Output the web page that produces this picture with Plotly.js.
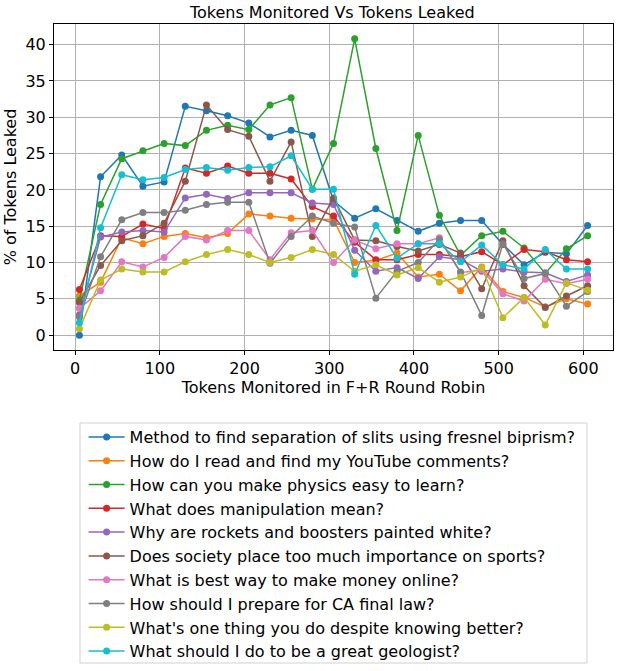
<!DOCTYPE html>
<html>
<head>
<meta charset="utf-8">
<script src="https://cdn.plot.ly/plotly-3.0.1.min.js"></script>
<style>html,body{margin:0;padding:0;background:#fff;}#chart{width:620px;height:671px;}</style>
</head>
<body>
<div id="chart"></div>
<script>
const tokensMonitored = [5, 30, 55, 80, 105, 130, 155, 180, 205, 230, 255, 280, 305, 330, 355, 380, 405, 430, 455, 480, 505, 530, 555, 580, 605];

const seriesNames = [
  "Method to find separation of slits using fresnel biprism?",
  "How do I read and find my YouTube comments?",
  "How can you make physics easy to learn?",
  "What does manipulation mean?",
  "Why are rockets and boosters painted white?",
  "Does society place too much importance on sports?",
  "What is best way to make money online?",
  "How should I prepare for CA final law?",
  "What's one thing you do despite knowing better?",
  "What should I do to be a great geologist?"
];

const fresnel   = [0, 21.8, 24.8, 20.5, 21.1, 31.5, 30.9, 30.2, 29.2, 27.3, 28.2, 27.5, 18.5, 16.1, 17.4, 15.8, 14.3, 15.4, 15.8, 15.8, 12.5, 9.7, 11.4, 11.2, 15.1];
const youtube   = [5.4, 7.3, 13.4, 12.6, 13.6, 14.0, 13.4, 14.0, 16.7, 16.4, 16.1, 16.0, 15.9, 10.0, 10.3, 11.3, 8.0, 8.4, 6.1, 9.4, 6.0, 5.2, 3.9, 5.0, 4.3];
const physics   = [4.8, 18.0, 24.3, 25.4, 26.4, 26.1, 28.2, 28.9, 28.3, 31.7, 32.7, 20.1, 26.4, 40.8, 25.7, 14.4, 27.5, 16.5, 11.0, 13.7, 14.3, 12.0, 8.5, 11.9, 13.7];
const manipulation = [6.3, 13.7, 13.6, 15.3, 14.7, 23.0, 22.3, 23.3, 22.3, 22.3, 21.5, 17.7, 16.4, 12.8, 10.4, 10.4, 11.1, 11.1, 10.8, 11.5, 9.7, 11.8, 11.5, 10.4, 10.1];
const rockets   = [2.8, 13.5, 14.2, 14.4, 14.2, 18.9, 19.4, 18.8, 19.6, 19.6, 19.6, 18.2, 18.0, 11.7, 8.8, 9.3, 7.8, 10.8, 10.4, 8.8, 9.1, 8.7, 8.6, 7.4, 8.3];
const sports    = [4.5, 9.6, 13.0, 13.7, 15.4, 21.2, 31.7, 28.3, 27.4, 21.2, 26.6, 13.6, 18.9, 13.1, 13.0, 12.2, 11.6, 12.5, 11.3, 6.4, 13.0, 6.8, 3.8, 5.4, 6.8];
const money     = [3.7, 6.1, 10.1, 9.4, 10.7, 13.6, 13.1, 14.4, 14.4, 10.4, 14.1, 14.4, 10.0, 13.1, 11.9, 12.6, 12.6, 13.4, 8.6, 9.0, 5.7, 4.7, 7.7, 7.1, 7.7];
const caLaw     = [2.5, 10.8, 15.9, 16.9, 16.9, 17.2, 18.0, 18.3, 18.3, 9.9, 13.6, 16.4, 15.4, 14.9, 5.1, 8.8, 10.0, 13.2, 8.7, 2.7, 12.6, 7.8, 8.5, 4.0, 6.0];
const despite   = [0.9, 7.6, 9.1, 8.7, 8.7, 10.1, 11.1, 11.8, 11.1, 10.0, 10.7, 11.8, 11.1, 8.8, 9.7, 8.3, 9.3, 7.3, 8.0, 9.3, 2.4, 5.2, 1.4, 7.2, 6.2];
const geologist = [1.7, 14.8, 22.1, 21.4, 21.7, 22.8, 23.1, 22.7, 23.1, 23.2, 24.7, 20.1, 20.1, 8.4, 15.1, 10.6, 12.6, 12.6, 10.1, 12.4, 9.7, 9.1, 11.8, 9.1, 9.1];

const seriesValues = [fresnel, youtube, physics, manipulation, rockets, sports, money, caLaw, despite, geologist];
const colors = ["#1f77b4", "#ff7f0e", "#2ca02c", "#d62728", "#9467bd", "#8c564b", "#e377c2", "#7f7f7f", "#bcbd22", "#17becf"];

const traces = seriesValues.map((vals, i) => ({
  x: tokensMonitored,
  y: vals,
  name: seriesNames[i],
  type: "scatter",
  mode: "lines+markers",
  line: {color: colors[i], width: 1.5},
  marker: {color: colors[i], size: 7}
}));

const font = "DejaVu Sans, sans-serif";
const layout = {
  width: 620,
  height: 671,
  margin: {l: 54, r: 7, t: 24, b: 321, autoexpand: false},
  paper_bgcolor: "#fff",
  plot_bgcolor: "#fff",
  font: {family: font, size: 16, color: "#000"},
  title: {text: "Tokens Monitored Vs Tokens Leaked", font: {family: font, size: 16, color: "#000"}, x: 0.536, xanchor: "center", y: 0.981, yanchor: "middle"},
  xaxis: {
    range: [-25, 635],
    tickvals: [0, 100, 200, 300, 400, 500, 600],
    showgrid: true, gridcolor: "#b0b0b0", gridwidth: 1,
    zeroline: false,
    showline: true, linecolor: "#000", linewidth: 1, mirror: true,
    ticks: "outside", ticklen: 4, tickcolor: "#000",
    tickfont: {family: font, size: 16},
    automargin: false,
    title: {text: "Tokens Monitored in F+R Round Robin", font: {family: font, size: 16}, standoff: 0}
  },
  yaxis: {
    range: [-2.04, 42.84],
    tickvals: [0, 5, 10, 15, 20, 25, 30, 35, 40],
    showgrid: true, gridcolor: "#b0b0b0", gridwidth: 1,
    zeroline: false,
    showline: true, linecolor: "#000", linewidth: 1, mirror: true,
    ticks: "outside", ticklen: 4, tickcolor: "#000",
    tickfont: {family: font, size: 16},
    automargin: false,
    title: {text: "% of Tokens Leaked", font: {family: font, size: 16}, standoff: 4}
  },
  shapes: [{
    type: "rect", xref: "paper", yref: "paper",
    x0: 0.0465, x1: 0.9535, y0: -0.9601, y1: -0.2239,
    line: {color: "#d0d0d0", width: 1}, fillcolor: "rgba(0,0,0,0)", layer: "above"
  }],
  showlegend: true,
  legend: {
    x: 0.4975, xanchor: "center",
    y: -0.2147, yanchor: "top",
    bgcolor: "rgba(0,0,0,0)",
    borderwidth: 0,
    font: {family: font, size: 16, color: "#000"},
    itemwidth: 36,
    tracegroupgap: 0
  }
};

Plotly.newPlot("chart", traces, layout, {displayModeBar: false, staticPlot: true});
</script>
</body>
</html>
